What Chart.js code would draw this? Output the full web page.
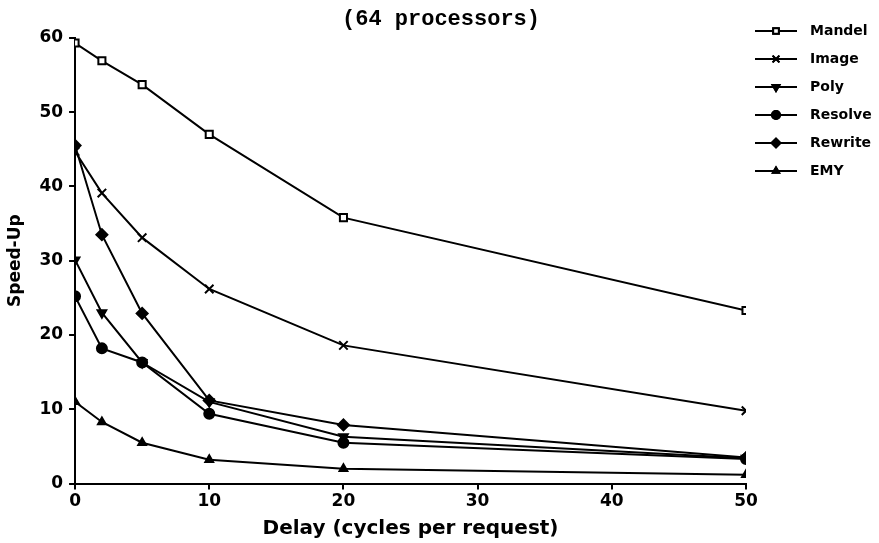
<!DOCTYPE html>
<html><head><meta charset="utf-8">
<script src="https://cdn.jsdelivr.net/npm/chart.js@4/dist/chart.umd.min.js"></script>
<style>html,body{margin:0;padding:0;background:#fff}#wrap{width:879px;height:543px}</style>
</head><body><div id="wrap"><canvas id="c" width="879" height="543"></canvas></div>
<script>
const titleText = '(64 processors)';
const xAxisTitle = 'Delay (cycles per request)';
const yAxisTitle = 'Speed-Up';
const delays = [0, 2, 5, 10, 20, 50];
const seriesNames = ['Mandel', 'Image', 'Poly', 'Resolve', 'Rewrite', 'EMY'];
const mandel  = [59.3, 56.9, 53.7, 47.0, 35.8, 23.3];
const image   = [44.7, 39.1, 33.1, 26.2, 18.6, 9.8];
const poly    = [30.1, 23.0, 16.3, 11.0, 6.3, 3.4];
const resolve = [25.2, 18.2, 16.3, 9.4, 5.5, 3.3];
const rewrite = [45.5, 33.5, 22.9, 11.2, 7.9, 3.5];
const emy     = [11.0, 8.3, 5.5, 3.2, 2.0, 1.2];
const xTicks = [0, 10, 20, 30, 40, 50];
const yTicks = [0, 10, 20, 30, 40, 50, 60];

const seriesValues = [mandel, image, poly, resolve, rewrite, emy];
const markerStyles = [
  {pointStyle: 'rect', radius: 5, fill: '#ffffff', rotation: 0},
  {pointStyle: 'crossRot', radius: 6, fill: '#000000', rotation: 0},
  {pointStyle: 'triangle', radius: 5, fill: '#000000', rotation: 180},
  {pointStyle: 'circle', radius: 5, fill: '#000000', rotation: 0},
  {pointStyle: 'rectRot', radius: 5.5, fill: '#000000', rotation: 0},
  {pointStyle: 'triangle', radius: 4.5, fill: '#000000', rotation: 0}
];

function legendSample(m) {
  const c = document.createElement('canvas');
  c.width = 53; c.height = 14;
  const ctx = c.getContext('2d');
  ctx.strokeStyle = '#000'; ctx.lineWidth = 2;
  ctx.beginPath(); ctx.moveTo(0, 7); ctx.lineTo(42, 7); ctx.stroke();
  const opts = {pointStyle: m.pointStyle, radius: m.radius * 0.8, rotation: m.rotation, borderWidth: 2};
  ctx.fillStyle = m.fill;
  Chart.helpers.drawPoint(ctx, opts, 21, 7);
  ctx.fill(); ctx.stroke();
  return c;
}

const datasets = seriesNames.map((name, i) => ({
  label: name,
  data: delays.map((d, j) => ({x: d, y: seriesValues[i][j]})),
  borderColor: '#000',
  borderWidth: 2,
  backgroundColor: markerStyles[i].fill,
  pointStyle: markerStyles[i].pointStyle,
  pointRadius: markerStyles[i].radius,
  pointRotation: markerStyles[i].rotation,
  pointBackgroundColor: markerStyles[i].fill,
  pointBorderColor: '#000',
  pointBorderWidth: 2,
  tension: 0,
  fill: false
}));

const tickFont = {family: 'DejaVu Sans', weight: 'bold', size: 17};

new Chart(document.getElementById('c'), {
  type: 'line',
  data: {datasets},
  options: {
    responsive: false,
    animation: false,
    layout: {padding: {left: 3, right: 0, top: 10, bottom: 0}},
    plugins: {
      title: {
        display: true, text: titleText, color: '#000', fullSize: true,
        font: {family: 'Liberation Mono', weight: 'bold', size: 22, lineHeight: 0.9},
        padding: {top: 0, bottom: 8}
      },
      legend: {
        display: true, position: 'right', align: 'start', fullSize: true, maxWidth: 133,
        labels: {
          color: '#000', usePointStyle: true, pointStyleWidth: 43, padding: 14,
          font: {family: 'DejaVu Sans', weight: 'bold', size: 14},
          generateLabels: (chart) => chart.data.datasets.map((ds, i) => ({
            text: ds.label, pointStyle: legendSample(markerStyles[i]),
            fillStyle: '#000', strokeStyle: '#000', lineWidth: 0, datasetIndex: i, hidden: false, fontColor: '#000'
          }))
        }
      },
      tooltip: {enabled: false}
    },
    scales: {
      x: {
        type: 'linear', min: 0, max: 50,
        afterBuildTicks: (s) => { s.ticks = xTicks.map(v => ({value: v})); },
        ticks: {color: '#000', font: tickFont, padding: 2, maxRotation: 0},
        grid: {display: true, drawOnChartArea: false, drawTicks: true, tickLength: 6, color: '#000', lineWidth: 2},
        border: {display: true, color: '#000', width: 2},
        title: {display: true, text: xAxisTitle, color: '#000', font: {family: 'DejaVu Sans', weight: 'bold', size: 20}, padding: {top: 3, bottom: 2}}
      },
      y: {
        type: 'linear', min: 0, max: 60,
        afterBuildTicks: (s) => { s.ticks = yTicks.map(v => ({value: v})); },
        ticks: {color: '#000', font: tickFont, padding: 6},
        grid: {display: true, drawOnChartArea: false, drawTicks: true, tickLength: 6, color: '#000', lineWidth: 2},
        border: {display: true, color: '#000', width: 2},
        title: {display: true, text: yAxisTitle, color: '#000', font: {family: 'DejaVu Sans', weight: 'bold', size: 17}, padding: {top: 2, bottom: 8}}
      }
    }
  }
});
</script></body></html>
